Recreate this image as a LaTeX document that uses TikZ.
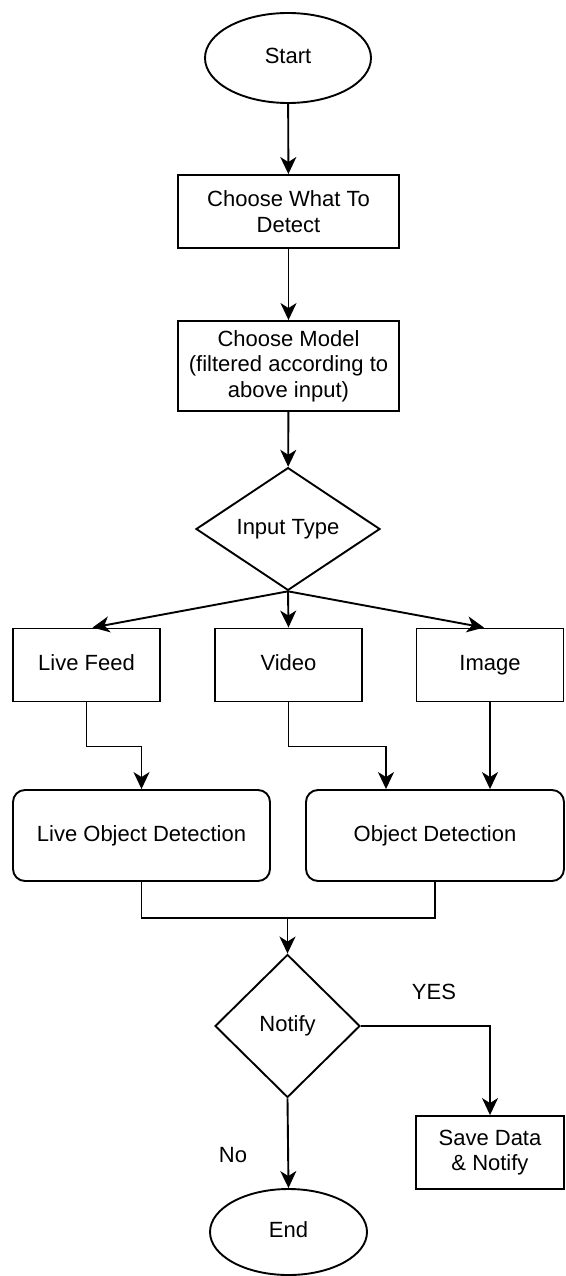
\documentclass[tikz,border=0pt]{standalone}
\usepackage{fontspec}
\setmainfont{Liberation Sans}
\usetikzlibrary{shapes.geometric,arrows.meta}
\begin{document}
\begin{tikzpicture}[x=1pt,y=-1pt,
  every node/.style={font=\fontsize{22}{25.5}\selectfont, align=center, line width=1.9pt},
  tline/.style={text height=15.5pt, text depth=4.5pt},
  term/.style={ellipse, draw, inner sep=0pt, tline},
  proc/.style={rectangle, draw, inner sep=0pt},
  rproc/.style={rectangle, draw, rounded corners=12pt, inner sep=0pt, tline},
  decide/.style={diamond, draw, inner sep=0pt, tline},
  arr/.style={line width=1.9pt, -{Stealth[length=17pt, width=16pt, inset=5pt]}},
  lin/.style={line width=1.9pt}]
\useasboundingbox (0,0) rectangle (565,1276);
\node[term, minimum width=166, minimum height=90] (start) at (288,58){Start};
\node[proc, minimum width=221, minimum height=73] (what) at (288.5,211.5){Choose What To\\Detect};
\node[proc, minimum width=221, minimum height=90] (model) at (288.5,366){Choose Model\\(filtered according to\\above input)};
\node[decide, minimum width=184, minimum height=90] (itype) at (288,529){Input Type};
\node[proc, tline, minimum width=147, minimum height=73] (live) at (86.5,665){Live Feed};
\node[proc, tline, minimum width=147, minimum height=73] (video) at (288.5,665){Video};
\node[proc, tline, minimum width=147, minimum height=73] (image) at (490,665){Image};
\node[rproc, minimum width=257, minimum height=91] (lod) at (141.5,835.5){Live Object Detection};
\node[rproc, minimum width=258, minimum height=91] (od) at (435,835.5){Object Detection};
\node[decide, minimum width=145, minimum height=143] (notify) at (287.5,1026){Notify};
\node[proc, minimum width=148, minimum height=73] (save) at (490,1152.5){Save Data\\\& Notify};
\node[term, minimum width=157, minimum height=86] (end) at (288.5,1232){End};
\node[tline] (yes) at (434,994){YES};
\node[tline] (no) at (233,1157){No};
\draw[arr](start) -- (what);
\draw[arr](what) -- (model);
\draw[arr](model) -- (itype);
\draw[arr](itype.south) -- ([xshift=6pt]live.north);
\draw[arr](itype.south) -- (video.north);
\draw[arr](itype.south) -- ([xshift=-6pt]image.north);
\draw[arr](live.south) -- ++(0,44) -| (lod.north);
\draw[arr](video.south) -- ++(0,44) -| ([xshift=-49pt]od.north);
\draw[arr](image.south) -- (image.south |- od.north);
\draw[lin](lod.south) -- ++(0,36) coordinate (merge) -| (od.south);
\draw[arr](merge -| notify.north) -- (notify.north);
\draw[arr](notify.east) -| (save.north);
\draw[arr](notify.south) -- (end.north);
\end{tikzpicture}
\end{document}
